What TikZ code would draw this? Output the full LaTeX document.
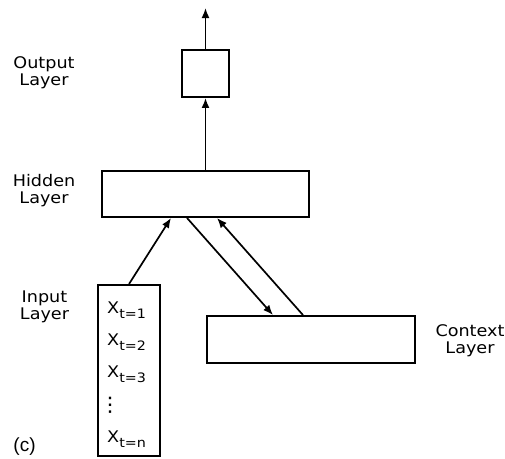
\documentclass[tikz,border=0pt]{standalone}
\usepackage{fontspec}
\newfontfamily\labfont[FakeStretch=1.1]{DejaVu Sans}
\newfontfamily\tagfont{Liberation Sans}
\usetikzlibrary{arrows.meta,calc}
\begin{document}
\begin{tikzpicture}[x=1pt,y=-1pt,
  layer/.style={draw=black,line width=1.9pt,inner sep=0pt,fill=white},
  lab/.style={font=\labfont\fontsize{16}{17}\selectfont,align=center,inner sep=0pt,anchor=north},
  xlab/.style={font=\labfont\fontsize{16}{17}\selectfont,inner sep=0pt,anchor=base west},
  conn/.style={line width=1.7pt,-{Latex[length=10pt,width=8pt]}}]
\useasboundingbox (0,0) rectangle (505,458);
% boxes
\node[layer,minimum width=47pt,minimum height=47pt] (out) at (205.5,73.5) {};
\node[layer,minimum width=207pt,minimum height=46pt] (hid) at (205.5,194) {};
\node[layer,minimum width=62pt,minimum height=171pt] (inp) at (129,370.5) {};
\node[layer,minimum width=208pt,minimum height=47pt] (ctx) at (311,339.5) {};
% labels
\node[lab] (loutput) at (44,56) {Output\\Layer};
\node[lab] (lhidden) at (44,174) {Hidden\\Layer};
\node[lab] (linput) at (44.5,291) {Input\\Layer};
\node[lab] (lcontext) at (470,324) {Context\\Layer};
\node[font=\tagfont\fontsize{19}{19}\selectfont,inner sep=0pt] (tag) at (24.5,447) {(c)};
% input entries
\newcommand{\xsub}[1]{X\raisebox{-5pt}{\fontsize{13}{13}\selectfont #1}}
\node[xlab] (x1) at (107,313) {\xsub{t=1}};
\node[xlab] (x2) at (107,345) {\xsub{t=2}};
\node[xlab] (x3) at (107,377) {\xsub{t=3}};
\node[font=\labfont\fontsize{20}{20}\selectfont,inner sep=0pt] (xd) at (110,405) {⋮};
\node[xlab] (xn) at (107,442) {\xsub{t=n}};
% connectors
\coordinate (top) at (205.5,8);
\draw[conn] (out.north) -- (top);
\draw[conn] (hid.north) -- (out.south);
\draw[conn] (inp.north) -- ([xshift=-34.5pt]hid.south);
\draw[conn] ([xshift=-18.5pt]hid.south) -- ([xshift=-38pt]ctx.north);
\draw[conn] ([xshift=-8pt]ctx.north) -- ([xshift=11.5pt]hid.south);
\end{tikzpicture}
\end{document}
